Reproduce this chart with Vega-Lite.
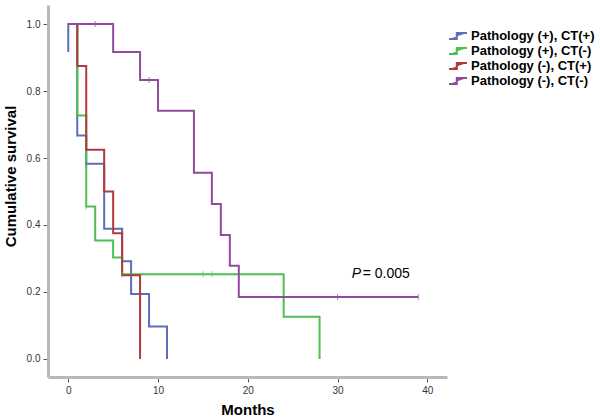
{
  "$schema": "https://vega.github.io/schema/vega-lite/v6.json",
  "width": 399,
  "height": 372,
  "autosize": {"type": "none"},
  "padding": {"left": 48, "top": 5, "right": 153, "bottom": 42},
  "background": "white",
  "config": {
    "view": {"stroke": null},
    "font": "Liberation Sans",
    "axis": {
      "grid": false,
      "domainColor": "#b8b8b8",
      "domainWidth": 3,
      "tickColor": "#555555",
      "tickSize": 5,
      "tickWidth": 1,
      "labelColor": "#333333",
      "labelFontSize": 10,
      "titleFontSize": 15,
      "titleFontWeight": "bold",
      "titleColor": "#000000"
    }
  },
  "datasets": {
    "curves": [
      {"g": "Pathology (+), CT(+)", "i": 1, "t": 0, "s": 0.917},
      {"g": "Pathology (+), CT(+)", "i": 2, "t": 0, "s": 1},
      {"g": "Pathology (+), CT(+)", "i": 3, "t": 1, "s": 1},
      {"g": "Pathology (+), CT(+)", "i": 4, "t": 1, "s": 0.667},
      {"g": "Pathology (+), CT(+)", "i": 5, "t": 2, "s": 0.667},
      {"g": "Pathology (+), CT(+)", "i": 6, "t": 2, "s": 0.583},
      {"g": "Pathology (+), CT(+)", "i": 7, "t": 4, "s": 0.583},
      {"g": "Pathology (+), CT(+)", "i": 8, "t": 4, "s": 0.389},
      {"g": "Pathology (+), CT(+)", "i": 9, "t": 6, "s": 0.389},
      {"g": "Pathology (+), CT(+)", "i": 10, "t": 6, "s": 0.292},
      {"g": "Pathology (+), CT(+)", "i": 11, "t": 7, "s": 0.292},
      {"g": "Pathology (+), CT(+)", "i": 12, "t": 7, "s": 0.194},
      {"g": "Pathology (+), CT(+)", "i": 13, "t": 9, "s": 0.194},
      {"g": "Pathology (+), CT(+)", "i": 14, "t": 9, "s": 0.097},
      {"g": "Pathology (+), CT(+)", "i": 15, "t": 11, "s": 0.097},
      {"g": "Pathology (+), CT(+)", "i": 16, "t": 11, "s": 0},

      {"g": "Pathology (+), CT(-)", "i": 1, "t": 0, "s": 1},
      {"g": "Pathology (+), CT(-)", "i": 2, "t": 1, "s": 1},
      {"g": "Pathology (+), CT(-)", "i": 3, "t": 1, "s": 0.727},
      {"g": "Pathology (+), CT(-)", "i": 4, "t": 2, "s": 0.727},
      {"g": "Pathology (+), CT(-)", "i": 5, "t": 2, "s": 0.455},
      {"g": "Pathology (+), CT(-)", "i": 6, "t": 3, "s": 0.455},
      {"g": "Pathology (+), CT(-)", "i": 7, "t": 3, "s": 0.354},
      {"g": "Pathology (+), CT(-)", "i": 8, "t": 5, "s": 0.354},
      {"g": "Pathology (+), CT(-)", "i": 9, "t": 5, "s": 0.303},
      {"g": "Pathology (+), CT(-)", "i": 10, "t": 6, "s": 0.303},
      {"g": "Pathology (+), CT(-)", "i": 11, "t": 6, "s": 0.253},
      {"g": "Pathology (+), CT(-)", "i": 12, "t": 24, "s": 0.253},
      {"g": "Pathology (+), CT(-)", "i": 13, "t": 24, "s": 0.126},
      {"g": "Pathology (+), CT(-)", "i": 14, "t": 28, "s": 0.126},
      {"g": "Pathology (+), CT(-)", "i": 15, "t": 28, "s": 0},

      {"g": "Pathology (-), CT(+)", "i": 1, "t": 0, "s": 1},
      {"g": "Pathology (-), CT(+)", "i": 2, "t": 1, "s": 1},
      {"g": "Pathology (-), CT(+)", "i": 3, "t": 1, "s": 0.875},
      {"g": "Pathology (-), CT(+)", "i": 4, "t": 2, "s": 0.875},
      {"g": "Pathology (-), CT(+)", "i": 5, "t": 2, "s": 0.625},
      {"g": "Pathology (-), CT(+)", "i": 6, "t": 4, "s": 0.625},
      {"g": "Pathology (-), CT(+)", "i": 7, "t": 4, "s": 0.5},
      {"g": "Pathology (-), CT(+)", "i": 8, "t": 5, "s": 0.5},
      {"g": "Pathology (-), CT(+)", "i": 9, "t": 5, "s": 0.375},
      {"g": "Pathology (-), CT(+)", "i": 10, "t": 6, "s": 0.375},
      {"g": "Pathology (-), CT(+)", "i": 11, "t": 6, "s": 0.25},
      {"g": "Pathology (-), CT(+)", "i": 12, "t": 8, "s": 0.25},
      {"g": "Pathology (-), CT(+)", "i": 13, "t": 8, "s": 0},

      {"g": "Pathology (-), CT(-)", "i": 1, "t": 0, "s": 1},
      {"g": "Pathology (-), CT(-)", "i": 2, "t": 5, "s": 1},
      {"g": "Pathology (-), CT(-)", "i": 3, "t": 5, "s": 0.917},
      {"g": "Pathology (-), CT(-)", "i": 4, "t": 8, "s": 0.917},
      {"g": "Pathology (-), CT(-)", "i": 5, "t": 8, "s": 0.833},
      {"g": "Pathology (-), CT(-)", "i": 6, "t": 10, "s": 0.833},
      {"g": "Pathology (-), CT(-)", "i": 7, "t": 10, "s": 0.741},
      {"g": "Pathology (-), CT(-)", "i": 8, "t": 14, "s": 0.741},
      {"g": "Pathology (-), CT(-)", "i": 9, "t": 14, "s": 0.556},
      {"g": "Pathology (-), CT(-)", "i": 10, "t": 16, "s": 0.556},
      {"g": "Pathology (-), CT(-)", "i": 11, "t": 16, "s": 0.463},
      {"g": "Pathology (-), CT(-)", "i": 12, "t": 17, "s": 0.463},
      {"g": "Pathology (-), CT(-)", "i": 13, "t": 17, "s": 0.370},
      {"g": "Pathology (-), CT(-)", "i": 14, "t": 18, "s": 0.370},
      {"g": "Pathology (-), CT(-)", "i": 15, "t": 18, "s": 0.278},
      {"g": "Pathology (-), CT(-)", "i": 16, "t": 19, "s": 0.278},
      {"g": "Pathology (-), CT(-)", "i": 17, "t": 19, "s": 0.185},
      {"g": "Pathology (-), CT(-)", "i": 18, "t": 39, "s": 0.185}
    ],
    "censored": [
      {"g": "Pathology (+), CT(+)", "t": 2, "s": 0.583},
      {"g": "Pathology (+), CT(-)", "t": 2, "s": 0.455},
      {"g": "Pathology (+), CT(-)", "t": 6, "s": 0.253},
      {"g": "Pathology (+), CT(-)", "t": 15, "s": 0.253},
      {"g": "Pathology (+), CT(-)", "t": 16, "s": 0.253},
      {"g": "Pathology (-), CT(-)", "t": 3, "s": 1},
      {"g": "Pathology (-), CT(-)", "t": 9, "s": 0.833},
      {"g": "Pathology (-), CT(-)", "t": 30, "s": 0.185},
      {"g": "Pathology (-), CT(-)", "t": 39, "s": 0.185}
    ]
  },
  "layer": [
    {
      "data": {"name": "curves"},
      "mark": {"type": "line", "strokeWidth": 2, "interpolate": "linear"},
      "encoding": {
        "x": {
          "field": "t", "type": "quantitative",
          "scale": {"domain": [-2.26, 42.2], "nice": false, "zero": false},
          "axis": {"values": [0, 10, 20, 30, 40], "title": "Months", "titlePadding": 7, "labelPadding": 3}
        },
        "y": {
          "field": "s", "type": "quantitative",
          "scale": {"domain": [-0.054, 1.057], "nice": false, "zero": false},
          "axis": {"values": [0, 0.2, 0.4, 0.6, 0.8, 1.0], "format": ".1f", "title": "Cumulative survival", "titlePadding": 8, "titleY": 171, "labelPadding": 3}
        },
        "color": {
          "field": "g", "type": "nominal",
          "scale": {
            "domain": ["Pathology (+), CT(+)", "Pathology (+), CT(-)", "Pathology (-), CT(+)", "Pathology (-), CT(-)"],
            "range": ["#5a6fb8", "#4cbf50", "#b2393a", "#904b9c"]
          },
          "legend": {
            "title": null,
            "orient": "none",
            "legendX": 403,
            "legendY": 24,
            "symbolType": "M-1.5,0.5L-0.2,0.5L-0.2,-0.5L1.5,-0.5",
            "symbolSize": 144,
            "symbolStrokeWidth": 2,
            "symbolFillColor": "transparent",
            "labelFontSize": 13,
            "labelFontWeight": "bold",
            "labelColor": "#000000",
            "labelOffset": 6,
            "rowPadding": 1
          }
        },
        "order": {"field": "i", "type": "quantitative"}
      }
    },
    {
      "data": {"name": "censored"},
      "mark": {"type": "tick", "orient": "vertical", "size": 6, "thickness": 1},
      "encoding": {
        "x": {"field": "t", "type": "quantitative"},
        "y": {"field": "s", "type": "quantitative"},
        "color": {"field": "g", "type": "nominal", "legend": null}
      }
    },
    {
      "data": {"values": [{"t": 31.6, "s": 0.254, "label": "P"}]},
      "mark": {"type": "text", "align": "left", "baseline": "middle", "fontSize": 14, "fontStyle": "italic", "color": "#000000"},
      "encoding": {
        "x": {"field": "t", "type": "quantitative"},
        "y": {"field": "s", "type": "quantitative"},
        "text": {"field": "label"}
      }
    },
    {
      "data": {"values": [{"t": 32.8, "s": 0.254, "label": "= 0.005"}]},
      "mark": {"type": "text", "align": "left", "baseline": "middle", "fontSize": 14, "color": "#000000"},
      "encoding": {
        "x": {"field": "t", "type": "quantitative"},
        "y": {"field": "s", "type": "quantitative"},
        "text": {"field": "label"}
      }
    }
  ]
}
